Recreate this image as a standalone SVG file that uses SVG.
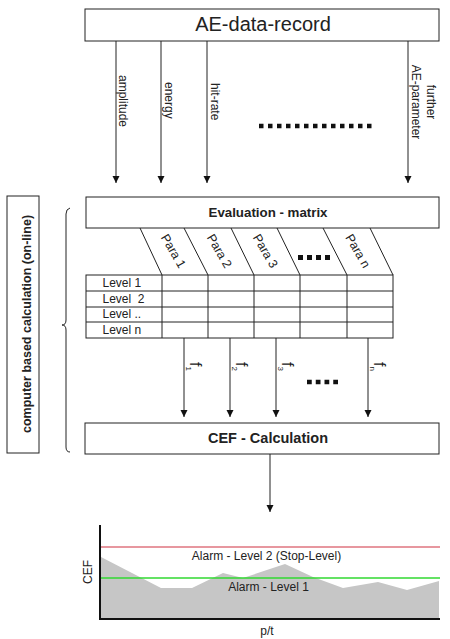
<svg xmlns="http://www.w3.org/2000/svg" width="450" height="639" viewBox="0 0 450 639">
<defs>
<style>
.box{fill:#fff;stroke:#222;stroke-width:1}
.ln{stroke:#222;stroke-width:1;fill:none}
.t{font-family:"Liberation Sans",Arial,sans-serif;fill:#222}
.b{font-weight:bold}
.dots{stroke:#111;fill:none}
</style>
<marker id="ah" markerWidth="8" markerHeight="9" refX="7" refY="3.5" orient="auto" markerUnits="userSpaceOnUse">
<path d="M0,0 L7,3.5 L0,7 Z" fill="#111"/>
</marker>
</defs>
<rect width="450" height="639" fill="#fff"/>

<g id="ae-data-record">
<rect class="box" x="85" y="9" width="354" height="32"/>
<text class="t" x="263" y="31" font-size="20" text-anchor="middle">AE-data-record</text>
</g>

<g id="computer-based">
<rect class="box" x="7" y="196" width="32" height="257"/>
<text class="t b" font-size="12.5" text-anchor="middle" dy="0.35em" transform="translate(26.5,324) rotate(-90)">computer based calculation (on-line)</text>
</g>

<g id="brace">
<path class="ln" stroke="#444" d="M70,208 Q66,209 66,214 L66,320 Q66,325 62,325 Q66,325 66,330 L66,447 Q66,452 70,452"/>
</g>

<g id="evaluation-matrix">
<rect class="box" x="86" y="197" width="353" height="31"/>
<text class="t b" x="268" y="217" font-size="13.3" text-anchor="middle">Evaluation - matrix</text>
<g class="ln">
<line x1="140" y1="228" x2="162" y2="275"/>
<line x1="184" y1="228" x2="208" y2="275"/>
<line x1="231" y1="228" x2="254" y2="275"/>
<line x1="277" y1="228" x2="300" y2="275"/>
<line x1="323" y1="228" x2="347" y2="275"/>
<line x1="370" y1="228" x2="393" y2="275"/>
</g>
<g class="t" font-size="12.5" text-anchor="middle">
<text dy="0.35em" transform="translate(173.5,251) rotate(60)">Para 1</text>
<text dy="0.35em" transform="translate(219.5,251) rotate(60)">Para 2</text>
<text dy="0.35em" transform="translate(265.5,251) rotate(60)">Para 3</text>
<text dy="0.35em" transform="translate(358,251) rotate(60)">Para n</text>
</g>
<line class="dots" x1="298" y1="257.5" x2="330" y2="257.5" stroke-width="5" stroke-dasharray="5 4"/>
<rect class="box" x="86" y="275" width="307" height="63"/>
<g class="ln">
<line x1="86" y1="291" x2="393" y2="291"/>
<line x1="86" y1="307" x2="393" y2="307"/>
<line x1="86" y1="322" x2="393" y2="322"/>
<line x1="162" y1="275" x2="162" y2="338"/>
<line x1="208" y1="275" x2="208" y2="338"/>
<line x1="254" y1="275" x2="254" y2="338"/>
<line x1="300" y1="275" x2="300" y2="338"/>
<line x1="347" y1="275" x2="347" y2="338"/>
</g>
<g class="t" font-size="12">
<text x="102.5" y="287">Level 1</text>
<text x="102.5" y="303">Level&#160; 2</text>
<text x="102.5" y="318">Level ..</text>
<text x="102.5" y="334">Level n</text>
</g>
</g>

<g id="cef-calculation">
<rect class="box" x="85" y="423" width="354" height="31"/>
<text class="t b" x="268" y="443" font-size="14.5" text-anchor="middle">CEF - Calculation</text>
</g>

<g id="connectors">
<g class="ln" marker-end="url(#ah)">
<line x1="116" y1="41" x2="116" y2="183"/>
<line x1="161" y1="41" x2="161" y2="183"/>
<line x1="207" y1="41" x2="207" y2="183"/>
<line x1="408" y1="41" x2="408" y2="183"/>
<line x1="184" y1="338" x2="184" y2="417"/>
<line x1="230" y1="338" x2="230" y2="417"/>
<line x1="276" y1="338" x2="276" y2="417"/>
<line x1="368" y1="338" x2="368" y2="417"/>
<line x1="270" y1="454" x2="270" y2="512"/>
</g>
<g class="t" font-size="12">
<text transform="translate(119,75) rotate(90)">amplitude</text>
<text transform="translate(165,82) rotate(90)">energy</text>
<text transform="translate(211,83) rotate(90)">hit-rate</text>
<text text-anchor="middle" transform="translate(427,102) rotate(90)">further</text>
<text text-anchor="middle" transform="translate(412,102) rotate(90)">AE-parameter</text>
</g>
<line class="dots" x1="259" y1="126" x2="372" y2="126" stroke-width="4.5" stroke-dasharray="4.5 4.5"/>
<g class="t" font-size="16">
<text transform="translate(190,362) rotate(90)">f<tspan font-size="8" dy="4">1</tspan></text>
<text transform="translate(236,362) rotate(90)">f<tspan font-size="8" dy="4">2</tspan></text>
<text transform="translate(282,362) rotate(90)">f<tspan font-size="8" dy="4">3</tspan></text>
<text transform="translate(374,362) rotate(90)">f<tspan font-size="8" dy="4">n</tspan></text>
</g>
<line class="dots" x1="307" y1="382" x2="338" y2="382" stroke-width="4.5" stroke-dasharray="4.75 4"/>
</g>

<g id="chart">
<polygon fill="#c6c6c6" points="101,557 161,588 192,588 223,573 243,578 285,564 313,577 343,588 378,582 407,590 439,581 439,619 101,619"/>
<line x1="100" y1="547" x2="440" y2="547" stroke="#d03040" stroke-width="1.2"/>
<line x1="100" y1="578" x2="440" y2="578" stroke="#30d830" stroke-width="1.5"/>
<line x1="100" y1="525" x2="100" y2="620" stroke="#111" stroke-width="2"/>
<line x1="99" y1="619" x2="440" y2="619" stroke="#111" stroke-width="2"/>
<g class="t" font-size="12">
<text x="266.5" y="560" text-anchor="middle">Alarm - Level 2 (Stop-Level)</text>
<text x="268.5" y="591" text-anchor="middle">Alarm - Level 1</text>
<text x="267" y="635" text-anchor="middle">p/t</text>
<text text-anchor="middle" dy="0.35em" transform="translate(87.5,572) rotate(-90)">CEF</text>
</g>
</g>
</svg>
